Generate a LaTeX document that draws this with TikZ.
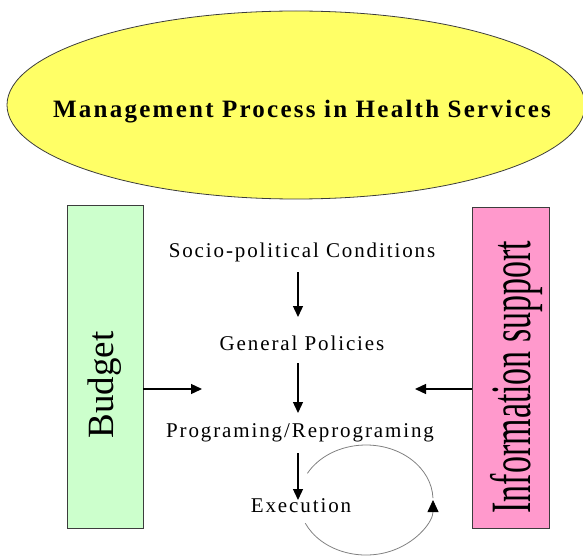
\documentclass[tikz,border=0pt]{standalone}
\usepackage{fontspec}
\setmainfont{Liberation Serif}
\newfontfamily\midfont[LetterSpace=9]{Liberation Serif}
\newfontfamily\titlefont[LetterSpace=9]{Liberation Serif}
\usetikzlibrary{shapes.geometric,arrows.meta,calc}
\definecolor{ellfill}{RGB}{255,255,102}
\definecolor{budfill}{RGB}{204,255,204}
\definecolor{inffill}{RGB}{255,153,204}
\definecolor{edge}{RGB}{60,60,60}
\tikzset{
  midtxt/.style={inner sep=0pt, anchor=base, font=\midfont\fontsize{21}{23}\selectfont},
  arr/.style={draw=black, line width=1.3pt, -{Triangle[length=11pt,width=10pt]}},
  sidebox/.style={draw=edge, line width=0.9pt, rectangle, inner sep=0pt},
}
\begin{document}
\begin{tikzpicture}[x=1pt,y=-1pt]
\useasboundingbox (0,0) rectangle (583,556);
% top ellipse
\node[ellipse, draw=edge, line width=0.8pt, fill=ellfill, minimum width=578pt, minimum height=188pt, inner sep=0pt] (ell) at (296,105) {};
\node[inner sep=0pt, anchor=base, font=\titlefont\bfseries\fontsize{25}{27}\selectfont] (title) at (302,118) {Management Process in Health Services};
% side boxes
\node[sidebox, fill=budfill, minimum width=76pt, minimum height=323pt] (bud) at (105,366.5) {};
\node[inner sep=0pt, anchor=base, rotate=90, font=\fontsize{37}{40}\selectfont] (budt) at (113,385) {Budget};
\node[sidebox, fill=inffill, minimum width=77pt, minimum height=321pt] (info) at (510.5,367.5) {};
\node[inner sep=0pt, anchor=base, rotate=90] (infot) at (530,377) {\scalebox{0.596}[1]{\fontsize{57}{60}\selectfont Information support}};
% middle texts
\node[midtxt] (soc) at (302,257) {Socio-political Conditions};
\node[midtxt] (gp) at (302,350) {General Policies};
\node[midtxt] (prog) at (300,437) {Programing/Reprograming};
\node[midtxt] (exe) at (301,512) {Execution};
% vertical arrows
\draw[arr] ([xshift=-4pt,yshift=-15pt]soc.base) -- ([xshift=-4pt,yshift=33pt]gp.base);
\draw[arr] ([xshift=-4pt,yshift=-13pt]gp.base) -- ([xshift=-2pt,yshift=24pt]prog.base);
\draw[arr] ([xshift=-2pt,yshift=-16pt]prog.base) -- ([xshift=-3pt,yshift=12pt]exe.base);
% horizontal arrows
\coordinate (bl) at (202,389);
\coordinate (ir) at (415,389);
\draw[arr] (bud.east |- bl) -- (bl);
\draw[arr] (info.west |- ir) -- (ir);
% cycle around execution
\coordinate (cc) at (366,500);
\draw[gray, line width=0.8pt, -{Triangle[length=12pt,width=11pt,black]}]
  ([shift={(205:67pt and 55pt)}]cc) arc[start angle=205, end angle=360, x radius=67pt, y radius=55pt];
\draw[gray, line width=0.8pt]
  ([shift={(2:67pt and 55pt)}]cc) arc[start angle=2, end angle=151, x radius=67pt, y radius=55pt];
\end{tikzpicture}
\end{document}
